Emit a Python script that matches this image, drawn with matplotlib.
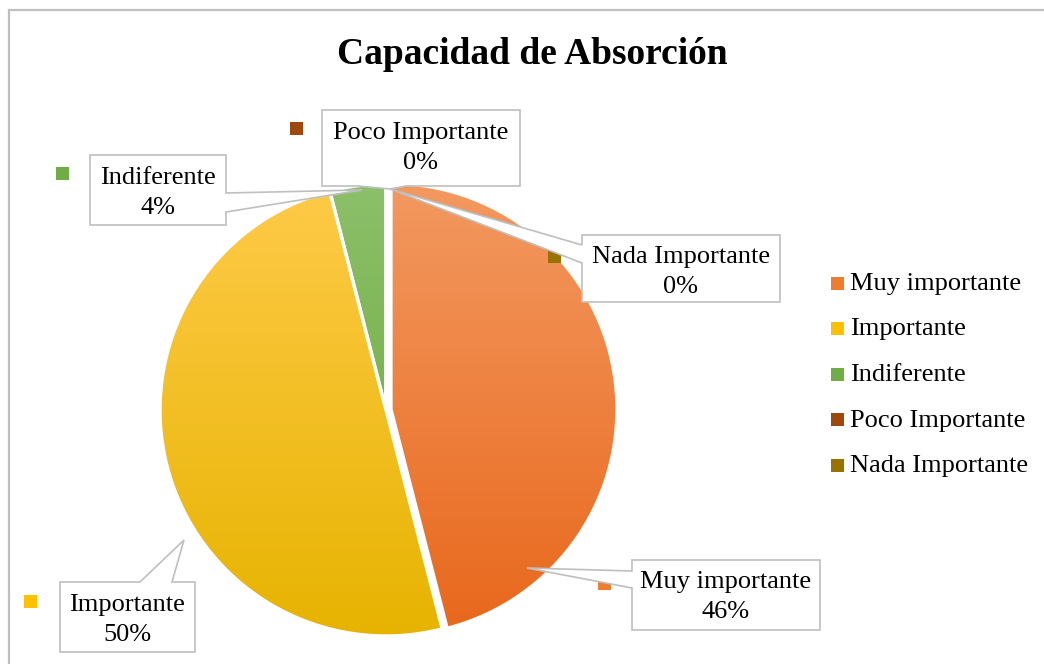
import numpy as np
import matplotlib
matplotlib.use('Agg')
import matplotlib.pyplot as plt
from matplotlib.colors import LinearSegmentedColormap
from matplotlib.patches import Polygon, Rectangle

categories = ['Muy importante', 'Importante', 'Indiferente', 'Poco Importante', 'Nada Importante']
values = [46, 50, 4, 0, 0]
title = 'Capacidad de Absorción'

colors_top = ['#F39A62', '#FFCB4A', '#8DC06B', '#B85A22', '#A8851C']
colors_bot = ['#E8661A', '#E6B300', '#68A634', '#9A3E0C', '#8C6A00']
colors_mid = ['#ED7D31', '#FFC000', '#70AD47', '#9E480E', '#997300']

W, H = 1044, 664
fig = plt.figure(figsize=(W / 100, H / 100), dpi=100)
ax = fig.add_axes([0, 0, 1, 1])


def P(x, y):
    return (x, H - y)


SERIF = ['Liberation Serif', 'DejaVu Serif']
cx, cy = P(386, 410)
r = 226
explode = [5, 0, 0, 0, 0]
wedges, _ = ax.pie(values, startangle=90, counterclock=False, radius=r,
                   center=(cx, cy), explode=explode, frame=True,
                   wedgeprops=dict(edgecolor='white', linewidth=2.4))

for w, ct, cb in zip(wedges, colors_top, colors_bot):
    cmap = LinearSegmentedColormap.from_list('g', [ct, cb])
    grad = np.linspace(0, 1, 256)[:, None]
    im = ax.imshow(grad, cmap=cmap, origin='upper', aspect='auto',
                   extent=[cx - r - 10, cx + r + 10, cy - r - 10, cy + r + 10],
                   zorder=1)
    im.set_clip_path(w)
    w.set_facecolor('none')
    w.set_zorder(2)

# data label callouts (pixel layout)
callouts = {
    'Poco Importante': dict(poly=[(322, 110), (520, 110), (520, 186), (406, 186), (390, 189),
                                  (358, 186), (322, 186)], center=(421, 148), key=(296, 128)),
    'Indiferente': dict(poly=[(90, 155), (226, 155), (226, 193), (362, 190), (226, 212),
                              (226, 225), (90, 225)], center=(158, 193), key=(62, 173)),
    'Nada Importante': dict(poly=[(582, 235), (780, 235), (780, 302), (582, 302), (582, 263),
                                  (390, 189), (582, 245)], center=(681, 272), key=(554, 256)),
    'Muy importante': dict(poly=[(632, 560), (820, 560), (820, 630), (632, 630), (632, 588),
                                 (527, 568), (632, 571)], center=(726, 597), key=(604, 583)),
    'Importante': dict(poly=[(60, 582), (140, 582), (184, 540), (172, 582), (195, 582),
                             (195, 652), (60, 652)], center=(127, 620), key=(30, 601)),
}

ks = 13
for name, val, cm in zip(categories, values, colors_mid):
    c = callouts[name]
    kx, ky = c['key']
    ax.add_patch(Rectangle(P(kx - ks / 2, ky + ks / 2), ks, ks, facecolor=cm,
                           edgecolor='none', zorder=4))
    ax.add_patch(Polygon([P(*p) for p in c['poly']], closed=True, facecolor='white',
                         edgecolor='#BFBFBF', linewidth=1.2, zorder=5,
                         joinstyle='miter'))
    tx, ty = c['center']
    ax.text(*P(tx, ty), f'{name}\n{val}%', ha='center', va='center',
            fontsize=19, family=SERIF, color='#000000', linespacing=1.42, zorder=6)

# legend
leg_x = 837
leg_y0 = 283
leg_dy = 45.5
ls = 13
for i, (name, cm) in enumerate(zip(categories, colors_mid)):
    y = leg_y0 + i * leg_dy
    ax.add_patch(Rectangle(P(leg_x - ls / 2, y + ls / 2), ls, ls, facecolor=cm,
                           edgecolor='none', zorder=4))
    ax.text(*P(850, y + 1), name, ha='left', va='center', fontsize=19, family=SERIF,
            color='#000000', zorder=6)

ax.text(*P(532, 54), title, ha='center', va='center', fontsize=27,
        fontweight='bold', family=SERIF, color='#000000')

# chart border
ax.plot([P(9, 700)[0], P(9, 10)[0], P(1060, 10)[0]],
        [P(9, 700)[1], P(9, 10)[1], P(1060, 10)[1]],
        color='#BFBFBF', linewidth=1.6, zorder=7, solid_joinstyle='miter')

ax.set_xlim(0, W)
ax.set_ylim(0, H)
ax.set_aspect('equal')
ax.axis('off')
fig.savefig('out.png', dpi=100)
